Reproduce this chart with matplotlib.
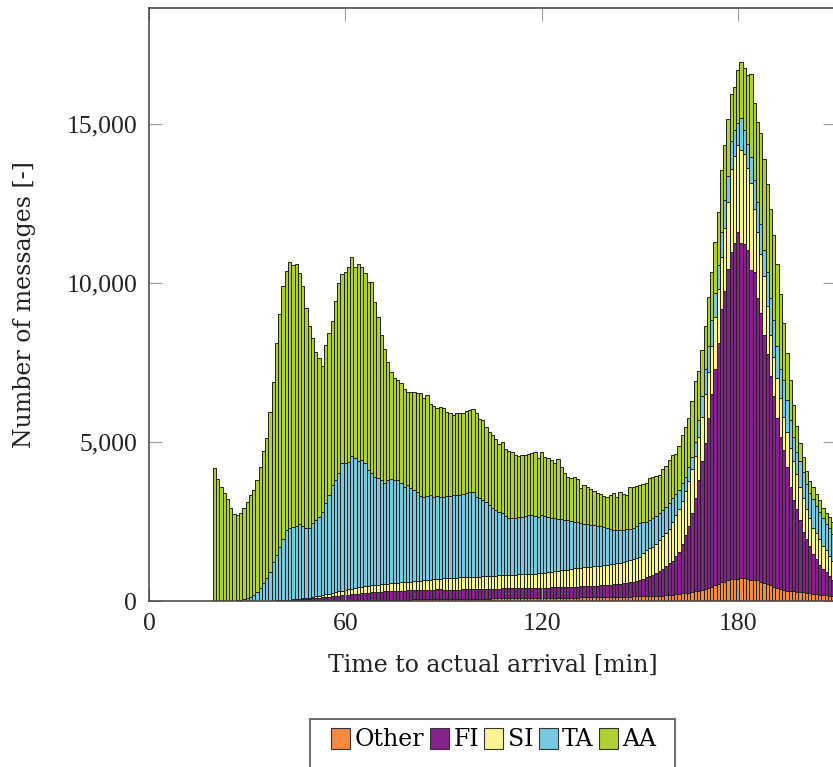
import numpy as np
import matplotlib
matplotlib.use("Agg")
import matplotlib.pyplot as plt
from matplotlib.patches import Patch, Rectangle
from matplotlib.ticker import StrMethodFormatter

plt.rcParams['font.family'] = ['Liberation Serif', 'DejaVu Serif']

# one bin per minute before actual arrival
minutes = np.arange(20, 210)

other = [
    0, 0, 0, 0, 0, 0, 0, 0, 0, 0,
    0, 0, 0, 0, 0, 0, 0, 0, 0, 0,
    0, 0, 0, 0, 0, 0, 5, 5, 5, 5,
    5, 5, 10, 10, 10, 10, 15, 15, 15, 20,
    20, 20, 20, 25, 25, 25, 25, 30, 30, 30,
    30, 35, 35, 35, 40, 40, 40, 40, 45, 45,
    45, 50, 50, 50, 50, 55, 55, 55, 55, 60,
    60, 60, 60, 65, 65, 65, 65, 70, 70, 70,
    70, 75, 75, 75, 75, 80, 80, 80, 80, 85,
    85, 85, 85, 90, 90, 90, 90, 95, 95, 95,
    95, 95, 100, 100, 100, 100, 105, 105, 105, 110,
    110, 110, 115, 115, 115, 120, 120, 120, 125, 125,
    125, 130, 130, 130, 135, 135, 140, 140, 145, 145,
    150, 150, 155, 155, 160, 160, 165, 170, 175, 180,
    200, 210, 225, 240, 255, 265, 285, 300, 320, 350,
    380, 410, 440, 500, 550, 585, 610, 650, 690, 700,
    705, 715, 730, 700, 645, 650, 645, 600, 555, 520,
    495, 450, 410, 370, 340, 320, 310, 300, 290, 280,
    270, 260, 250, 235, 220, 200, 190, 175, 165, 150,
]

fi = [
    0, 0, 0, 0, 0, 0, 0, 0, 0, 0,
    0, 0, 0, 0, 0, 5, 5, 5, 10, 10,
    15, 20, 25, 30, 35, 40, 40, 50, 55, 65,
    80, 90, 95, 105, 115, 125, 135, 145, 155, 160,
    170, 180, 190, 195, 205, 215, 225, 230, 240, 250,
    260, 260, 265, 270, 270, 275, 280, 285, 285, 295,
    300, 295, 300, 300, 305, 300, 305, 305, 310, 305,
    285, 290, 295, 290, 295, 295, 300, 295, 300, 300,
    300, 300, 300, 305, 305, 305, 310, 310, 315, 315,
    315, 315, 315, 315, 315, 315, 320, 315, 315, 315,
    320, 325, 320, 325, 330, 335, 335, 335, 340, 340,
    340, 345, 345, 350, 355, 355, 360, 365, 365, 375,
    375, 380, 390, 400, 405, 420, 430, 450, 465, 490,
    510, 550, 585, 630, 670, 730, 790, 850, 925, 1010,
    1050, 1190, 1320, 1560, 1815, 2095, 2480, 2935, 3495, 4045,
    4600, 5330, 6055, 6810, 7575, 8590, 9145, 9805, 10290, 10570,
    10915, 10555, 10485, 10340, 9750, 9690, 8880, 8460, 7805, 7255,
    6580, 5985, 5330, 4785, 4405, 3905, 3270, 2875, 2595, 2255,
    1915, 1690, 1470, 1250, 1090, 935, 830, 725, 620, 520,
]

si = [
    0, 0, 0, 0, 0, 0, 0, 0, 0, 0,
    0, 0, 0, 0, 5, 0, 5, 5, 5, 10,
    10, 10, 10, 15, 15, 20, 25, 25, 30, 40,
    50, 55, 65, 75, 85, 95, 100, 115, 130, 140,
    155, 170, 180, 190, 200, 210, 215, 220, 220, 215,
    210, 225, 240, 245, 250, 255, 260, 265, 270, 265,
    265, 275, 280, 290, 295, 305, 310, 320, 325, 335,
    365, 365, 365, 375, 375, 380, 380, 385, 385, 390,
    395, 395, 400, 400, 405, 405, 410, 415, 415, 415,
    420, 425, 430, 430, 435, 440, 440, 445, 450, 455,
    455, 465, 480, 490, 500, 510, 520, 535, 545, 560,
    580, 585, 590, 595, 600, 605, 610, 615, 620, 620,
    630, 640, 650, 660, 670, 680, 690, 700, 710, 720,
    735, 800, 865, 875, 880, 910, 965, 1010, 1030, 1070,
    1240, 1300, 1355, 1350, 1380, 1420, 1400, 1340, 1340, 1400,
    1515, 1455, 1515, 1630, 1690, 1630, 1980, 2095, 2620, 2740,
    2735, 2910, 2855, 2565, 2740, 1980, 2095, 1865, 1865, 1515,
    1280, 1225, 1280, 1225, 1050, 1105, 1225, 1220, 1105, 1050,
    1050, 930, 875, 815, 815, 815, 700, 700, 640, 580,
]

ta = [
    0, 0, 0, 0, 0, 0, 10, 20, 40, 70,
    100, 140, 190, 290, 405, 560, 710, 910, 1220, 1430,
    1685, 1920, 2200, 2240, 2270, 2290, 2350, 2270, 2195, 2175,
    2305, 2395, 2480, 2620, 2880, 3105, 3400, 3530, 3715, 4010,
    3985, 4010, 4170, 4075, 3980, 3980, 3865, 3640, 3525, 3415,
    3360, 3285, 3160, 3255, 3270, 3235, 3225, 3110, 2995, 3045,
    2935, 2870, 2810, 2660, 2630, 2640, 2660, 2600, 2600, 2580,
    2570, 2585, 2590, 2590, 2595, 2590, 2635, 2660, 2685, 2660,
    2515, 2460, 2400, 2320, 2235, 2150, 2060, 2005, 1950, 1865,
    1780, 1775, 1770, 1795, 1810, 1835, 1855, 1835, 1810, 1785,
    1835, 1795, 1750, 1705, 1670, 1645, 1610, 1585, 1545, 1510,
    1470, 1440, 1390, 1370, 1350, 1320, 1295, 1270, 1240, 1200,
    1155, 1110, 1060, 1040, 1020, 1005, 990, 990, 990, 1015,
    1045, 970, 895, 900, 910, 880, 860, 830, 840, 820,
    740, 650, 600, 550, 450, 445, 350, 410, 525, 640,
    815, 815, 815, 755, 755, 815, 875, 815, 875, 815,
    690, 995, 755, 755, 815, 930, 930, 930, 815, 1050,
    1165, 1165, 990, 930, 1165, 990, 875, 760, 710, 820,
    815, 815, 810, 900, 855, 850, 880, 820, 875, 850,
]

aa = [
    4170, 3830, 3600, 3410, 3200, 2915, 2725, 2685, 2720, 2865,
    3000, 3180, 3300, 3515, 3795, 4165, 4395, 5035, 5665, 6650,
    7315, 7955, 8145, 8385, 8250, 8240, 7885, 7565, 6920, 6365,
    5820, 5275, 4980, 4580, 4960, 5105, 5165, 5640, 5975, 5945,
    6005, 6135, 6270, 6005, 6190, 6085, 5975, 5925, 6030, 5505,
    5085, 4560, 4215, 3720, 3380, 3220, 3145, 3145, 3060, 2930,
    3035, 3070, 3090, 3230, 3090, 3180, 2865, 2850, 2770, 2830,
    2780, 2655, 2615, 2530, 2575, 2575, 2525, 2565, 2565, 2610,
    2625, 2495, 2515, 2360, 2305, 2280, 2225, 2130, 2250, 2090,
    2130, 2095, 1990, 1930, 1930, 1910, 1920, 1960, 2025, 1850,
    1990, 1860, 1835, 1815, 1730, 1865, 1635, 1455, 1375, 1340,
    1410, 1345, 1120, 1220, 1175, 1110, 1085, 1015, 1015, 990,
    995, 1070, 1155, 1050, 1210, 1125, 1080, 1315, 1285, 1245,
    1210, 1200, 1220, 1300, 1280, 1240, 1190, 1280, 1265, 1360,
    1370, 1280, 1365, 1515, 1570, 1515, 1770, 1920, 1540, 1455,
    1340, 1540, 1515, 1610, 1655, 1920, 1745, 1805, 1455, 1340,
    1640, 1775, 1945, 2180, 2620, 2425, 2530, 2855, 2855, 2775,
    2795, 2675, 2590, 2340, 1790, 1480, 1270, 995, 800, 550,
    465, 405, 355, 380, 370, 375, 340, 345, 350, 375,
]

series = [
    ("Other", other, "#f58b40"),
    ("FI", fi, "#832289"),
    ("SI", si, "#f9f594"),
    ("TA", ta, "#78c8df"),
    ("AA", aa, "#afd136"),
]

label_font = {"family": ["DejaVu Serif"], "size": 17, "color": "#222222"}

fig = plt.figure(figsize=(8.33, 7.67), dpi=100)
ax = fig.add_axes([149 / 833, 166 / 767, 687 / 833, 593 / 767])

bottom = np.zeros(len(minutes))
for name, vals, col in series:
    vals = np.array(vals, dtype=float)
    ax.bar(minutes, vals, width=1.0, bottom=bottom, color=col,
           edgecolor="#222222", linewidth=0.7, label=name)
    bottom += vals

ax.set_xlim(0, 210)
ax.set_ylim(0, 18650)
ax.set_xticks([0, 60, 120, 180])
ax.set_yticks([0, 5000, 10000, 15000])
ax.yaxis.set_major_formatter(StrMethodFormatter("{x:,.0f}"))

ax.tick_params(direction="in", length=9.4, width=0.8, color="#9a9a9a",
               top=True, right=True, labelsize=18.5, pad=8.5,
               labelcolor="#222222")
for s in ax.spines.values():
    s.set_color("#404040")
    s.set_linewidth(1.1)

ax.set_xlabel("Time to actual arrival [min]", fontdict=label_font)
ax.xaxis.set_label_coords(0.5, -0.108)
ax.xaxis.label.set_va("center")
ax.set_ylabel("Number of messages [-]", fontdict=label_font)
ax.yaxis.set_label_coords(-0.1805, 0.5)
ax.yaxis.label.set_va("center")

handles = [Patch(facecolor=c, edgecolor="#333333", linewidth=0.8) for _, _, c in series]
labels = [n for n, _, _ in series]
fig.legend(handles, labels, loc="upper center",
           bbox_to_anchor=(494 / 833, (767 - 716) / 767),
           ncol=5, frameon=False, prop={"family": ["DejaVu Serif"], "size": 17},
           borderpad=0, handlelength=0.8, handleheight=1.0,
           handletextpad=0.2, columnspacing=0.22)
fig.patches.append(Rectangle((310 / 833, -0.02), 365 / 833, (767 - 719) / 767 + 0.02,
                             transform=fig.transFigure, fill=False,
                             edgecolor="#444444", linewidth=1.1))

fig.savefig("out.png", dpi=100)
